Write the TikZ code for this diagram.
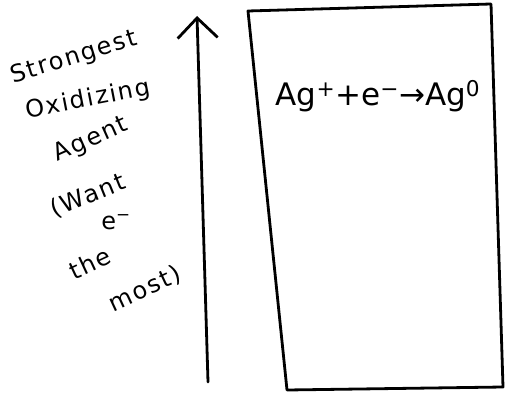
\documentclass[tikz,border=0pt]{standalone}
\usepackage{fontspec}
\setmainfont{DejaVu Sans}
\usetikzlibrary{arrows.meta}

\begin{document}
\begin{tikzpicture}
[x=1pt,y=-1pt,
 hand/.style={line width=2.8pt,line cap=round,line join=round},
 word/.style={font=\fontsize{24}{24}\selectfont\addfontfeature{LetterSpace=8},inner sep=0pt},
 eqn/.style={font=\fontsize{31}{31}\selectfont,inner sep=0pt}]

\useasboundingbox (0,0) rectangle (505,393);

% axis
\coordinate (base) at (208,382);
\coordinate (tip) at (197,16);
\draw [hand,-{Straight Barb[length=20pt,width=40pt,line width=2.8pt]}] (base) -- (tip);

% box
\draw [hand] (248,11) -- (491,4) -- (503,387) -- (287,390) -- cycle;

% labels
\draw (74,58) node (strongest) [word,rotate=17] {Strongest};
\draw (88,100) node (oxidizing) [word,rotate=11] {Oxidizing};
\draw (91,140) node (agent) [word,rotate=24] {Agent};
\draw (88,196) node (want) [word,rotate=22] {(Want};
\draw (116,222) node (electron) [word] {e\textsuperscript{−}};
\draw (90,263) node (the) [word,rotate=25] {the};
\draw (145,289) node (most) [word,rotate=25] {most)};

\draw (378,96) node (silver) [eqn] {Ag\textsuperscript{+}+e\textsuperscript{−}→Ag\textsuperscript{0}};
\end{tikzpicture}
\end{document}
